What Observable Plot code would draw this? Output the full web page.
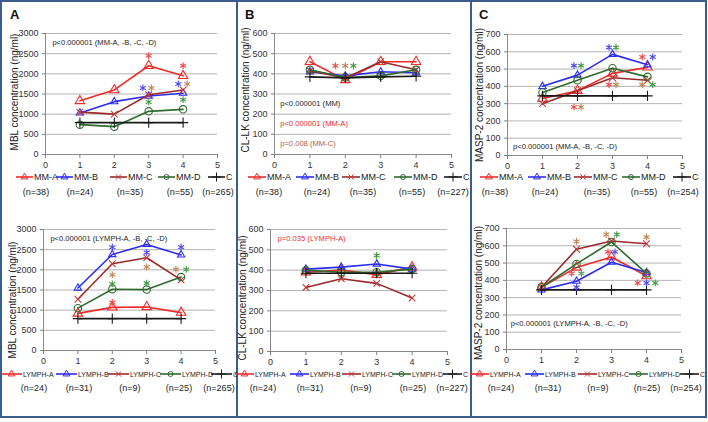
<!DOCTYPE html>
<html><head><meta charset="utf-8">
<script src="https://cdn.jsdelivr.net/npm/d3@7"></script>
<script src="https://cdn.jsdelivr.net/npm/@observablehq/plot@0.6"></script>
<style>
html,body{margin:0;padding:0;background:#fff;}
#fig{position:relative;width:708px;height:422px;overflow:hidden;font-family:"Liberation Sans",Arial,sans-serif;}
#fig > div{position:absolute;}
#overlay{position:absolute;left:0;top:0;pointer-events:none;}
</style></head><body><div id="fig"></div>
<script>
// ---------- data ----------
const xs = [1, 2, 3, 4];
const xTicks = [0, 1, 2, 3, 4, 5];
const mmNames = ["MM-A", "MM-B", "MM-C", "MM-D", "C"];
const lymphNames = ["LYMPH-A", "LYMPH-B", "LYMPH-C", "LYMPH-D", "C"];

// A: MBL
const mblMM_A = [1330, 1600, 2200, 1950];
const mblMM_B = [1030, 1310, 1450, 1520];
const mblMM_C = [1050, 1000, 1480, 1600];
const mblMM_D = [740, 690, 1070, 1120];
const mblCtrl = [790, 790, 790, 790];
const mblLY_A = [920, 1070, 1080, 940];
const mblLY_B = [1550, 2380, 2630, 2370];
const mblLY_C = [1270, 2150, 2300, 1750];
const mblLY_D = [1050, 1520, 1510, 1820];

// B: CL-LK
const clMM_A = [460, 370, 460, 460];
const clMM_B = [410, 390, 410, 405];
const clMM_C = [415, 380, 460, 420];
const clMM_D = [420, 382, 390, 420];
const clCtrlMM = [385, 380, 385, 388];
const clLY_A = [390, 400, 378, 415];
const clLY_B = [405, 415, 430, 405];
const clLY_C = [315, 358, 335, 263];
const clLY_D = [400, 390, 390, 405];
const clCtrlLY = [385, 385, 385, 385];

// C: MASP-2
const maspMM_A = [330, 375, 475, 510];
const maspMM_B = [400, 465, 585, 525];
const maspMM_C = [300, 375, 450, 435];
const maspMM_D = [365, 435, 505, 455];
const maspCtrl = [345, 345, 345, 345];
const maspLY_A = [360, 475, 535, 425];
const maspLY_B = [345, 395, 505, 445];
const maspLY_C = [360, 580, 628, 612];
const maspLY_D = [360, 495, 622, 440];

// significance asterisks: [x, y, group]
const starsMBL_MM = [[3,2450,0],[4,2200,0],[2.83,1650,1],[3.08,1650,2],[3,1300,3],[3.86,1750,1],[4.12,1750,2],[4,1360,3]];
const starsMBL_LY = [[2,2560,1],[2,1190,0],[2,1876,2],[2,1650,3],[3,2430,1],[3,2070,2],[3,1670,3],[4,2560,1],[3.85,2010,2],[4.15,2010,3]];
const starsCL_MM = [[1.72,440,0],[2,440,2],[2.23,440,3]];
const starsCL_LY = [[3,472,3]];
const starsMASP_MM = [[1.9,520,1],[2.1,520,3],[1.9,280,0],[2.1,280,2],[2.9,625,1],[3.1,625,3],[2.9,410,0],[3.1,410,2],[3.85,570,0],[4.15,570,1],[3.85,410,2],[4.15,410,3]];
const starsMASP_LY = [[2,625,2],[1.86,440,0],[2.14,440,3],[2,360,1],[2.85,665,2],[3.15,665,3],[2.9,565,0],[3.1,565,1],[4,650,2],[3.75,385,0],[4,385,1],[4.25,385,3]];

// annotations: [text, x, y, colourIndex]
const notesMBL_MM = [["p<0.000001 (MM-A, -B, -C, -D)", 0.2, 2780, 0]];
const notesMBL_LY = [["p<0.000001 (LYMPH-A, -B, -C, -D)", 0.2, 2780, 0]];
const notesCL_MM = [["p<0.000001 (MM)", 0.16, 255, 0], ["p<0.000001 (MM-A)", 0.16, 155, 1], ["p=0.008 (MM-C)", 0.16, 55, 2]];
const notesCL_LY = [["p=0.035 (LYMPH-A)", 0.2, 555, 1]];
const notesMASP_MM = [["p<0.000001 (MM-A, -B, -C, -D)", 0.16, 52, 0]];
const notesMASP_LY = [["p<0.000001 (LYMPH-A, -B, -C, -D)", 0.12, 150, 0]];

const nMBL_MM = ["(n=38)", "(n=24)", "(n=35)", "(n=55)", "(n=265)"];
const nMBL_LY = ["(n=24)", "(n=31)", "(n=9)", "(n=25)", "(n=265)"];
const nCL_MM = ["(n=38)", "(n=24)", "(n=35)", "(n=55)", "(n=227)"];
const nCL_LY = ["(n=24)", "(n=31)", "(n=9)", "(n=25)", "(n=227)"];
const nMASP_MM = ["(n=38)", "(n=24)", "(n=35)", "(n=55)", "(n=254)"];
const nMASP_LY = ["(n=24)", "(n=31)", "(n=9)", "(n=25)", "(n=254)"];

const yTicksMBL = [0, 500, 1000, 1500, 2000, 2500, 3000];
const yTicksCL = [0, 100, 200, 300, 400, 500, 600];
const yTicksMASP = [0, 100, 200, 300, 400, 500, 600, 700];

const yLabels = ["MBL concentration (ng/ml)", "CL-LK concentration (ng/ml)", "MASP-2 concentration (ng/ml)"];
const panelLetters = ["A", "B", "C"];

// ---------- styles ----------
const FONT = '"Liberation Sans", Arial, sans-serif';
const lineColors = ["#ee2b2b", "#2d2df0", "#9c2a2a", "#2f6a2f", "#1a1a1a"];
const markColors = ["#ee2b2b", "#2d2df0", "#c23a3a", "#2f6a2f", "#1a1a1a"];
const starColors = ["#ef4848", "#4848f0", "#c08352", "#3f9a3f"];
const noteColors = ["#1a1a1a", "#ee2b2b", "#b0603a"];
const symbols = ["triangle", "triangle", "times", "circle", "plus"];
const symR = [3.5, 2.7, 3.1, 3.7, 3.4];

// ---------- layout ----------
const panels = [
  {colL:0, colR:236, rowT:0, plotL:45, plotR:217, plotT:33, plotB:154, yMax:3000, yTicks:yTicksMBL,
   series:[mblMM_A,mblMM_B,mblMM_C,mblMM_D], ctrl:mblCtrl, stars:starsMBL_MM, notes:notesMBL_MM,
   names:mmNames, ns:nMBL_MM, lab:0, labX:14, labY:92, legY:177, nY:192, legX:[16,56,110,158,208], legLen:17, nX:[36,80,130,180,218], legFont:9},
  {colL:0, colR:236, rowT:200, plotL:43, plotR:215, plotT:229, plotB:350, yMax:3000, yTicks:yTicksMBL,
   series:[mblLY_A,mblLY_B,mblLY_C,mblLY_D], ctrl:mblCtrl, stars:starsMBL_LY, notes:notesMBL_LY,
   names:lymphNames, ns:nMBL_LY, lab:0, labX:12, labY:300, legY:374, nY:388, legX:[1,56,108,160,211], legLen:21, nX:[34,79,130,179,219], legFont:7},
  {colL:236, colR:470, rowT:0, plotL:274, plotR:451, plotT:33, plotB:154, yMax:600, yTicks:yTicksCL,
   series:[clMM_A,clMM_B,clMM_C,clMM_D], ctrl:clCtrlMM, stars:starsCL_MM, notes:notesCL_MM,
   names:mmNames, ns:nCL_MM, lab:1, labX:245, labY:90, legY:177, nY:192, legX:[248,296,342,394,444], legLen:18, nX:[269,317,363,412,453], legFont:9},
  {colL:236, colR:470, rowT:200, plotL:270, plotR:447, plotT:229, plotB:351, yMax:600, yTicks:yTicksCL,
   series:[clLY_A,clLY_B,clLY_C,clLY_D], ctrl:clCtrlLY, stars:starsCL_LY, notes:notesCL_LY,
   names:lymphNames, ns:nCL_LY, lab:1, labX:242, labY:298, legY:374, nY:388, legX:[235,290,342,392,443], legLen:19, nX:[263,310,361,413,452], legFont:7},
  {colL:470, colR:708, rowT:0, plotL:507, plotR:682, plotT:34, plotB:155, yMax:700, yTicks:yTicksMASP,
   series:[maspMM_A,maspMM_B,maspMM_C,maspMM_D], ctrl:maspCtrl, stars:starsMASP_MM, notes:notesMASP_MM,
   names:mmNames, ns:nMASP_MM, lab:2, labX:479, labY:95, legY:177, nY:192, legX:[480,528,574,622,673], legLen:18, nX:[495,545,597,644,683], legFont:9},
  {colL:470, colR:708, rowT:200, plotL:506, plotR:681, plotT:228, plotB:349, yMax:700, yTicks:yTicksMASP,
   series:[maspLY_A,maspLY_B,maspLY_C,maspLY_D], ctrl:maspCtrl, stars:starsMASP_LY, notes:notesMASP_LY,
   names:lymphNames, ns:nMASP_LY, lab:2, labX:478, labY:293, legY:374, nY:388, legX:[470,525,578,629,680], legLen:19, nX:[501,548,598,647,686], legFont:7}
];

const fig = document.getElementById("fig");

function buildPlot(p) {
  const all = [...p.series, p.ctrl];
  const rows = all.flatMap((vals, i) => vals.map((v, j) => ({x: xs[j], y: v, s: i})));
  const W = p.colR - p.colL;
  const H = p.plotB - p.rowT + 20;
  const marks = [
    Plot.gridY({ticks: p.yTicks, stroke: "#b4b4b4", strokeOpacity: 1, strokeWidth: 1}),
    Plot.axisY({ticks: p.yTicks, tickSize: 3, tickPadding: 4, tickFormat: d => String(d), label: null, stroke: "#7f7f7f", fill: "#333"}),
    Plot.axisX({ticks: xTicks, tickSize: 4, tickPadding: 3, tickFormat: d => String(d), label: null, stroke: "#7f7f7f", fill: "#333"}),
    Plot.ruleX([0], {stroke: "#8a8a8a"}),
    Plot.ruleY([0], {stroke: "#8a8a8a"})
  ];
  all.forEach((_, i) => {
    const d = rows.filter(r => r.s === i);
    marks.push(Plot.line(d, {x: "x", y: "y", stroke: lineColors[i], strokeWidth: 1.6}));
    marks.push(Plot.dot(d, {x: "x", y: "y", symbol: symbols[i], r: symR[i], stroke: markColors[i], fill: "none", strokeWidth: 1.1}));
  });
  starColors.forEach((c, i) => {
    const d = p.stars.filter(s => s[2] === i).map(s => ({x: s[0], y: s[1]}));
    if (d.length) marks.push(Plot.dot(d, {x: "x", y: "y", symbol: "asterisk", r: 3.2, stroke: c, strokeWidth: 1.1}));
  });
  p.notes.forEach(n => {
    marks.push(Plot.text([n], {x: d => d[1], y: d => d[2], text: d => d[0], fill: noteColors[n[3]], textAnchor: "start", fontSize: 7.6}));
  });
  const svg = Plot.plot({
    width: W, height: H,
    marginLeft: p.plotL - p.colL, marginRight: p.colR - p.plotR,
    marginTop: p.plotT - p.rowT, marginBottom: H - (p.plotB - p.rowT),
    x: {domain: [0, 5]}, y: {domain: [0, p.yMax]},
    style: {fontFamily: FONT, fontSize: "9px", background: "transparent", overflow: "visible", color: "#333"},
    marks
  });
  const div = document.createElement("div");
  div.style.left = p.colL + "px";
  div.style.top = p.rowT + "px";
  div.appendChild(svg);
  fig.appendChild(div);
}
panels.forEach(buildPlot);

// ---------- overlay: frame, letters, axis titles, legends ----------
const ov = d3.select(fig).append("svg").attr("id", "overlay").attr("width", 708).attr("height", 422)
  .style("font-family", FONT);
const frameColor = "#3a5d8c";
ov.append("rect").attr("x", 1).attr("y", 1).attr("width", 705).attr("height", 416)
  .attr("fill", "none").attr("stroke", frameColor).attr("stroke-width", 2);
[237, 471].forEach(x => ov.append("line").attr("x1", x).attr("x2", x).attr("y1", 1).attr("y2", 417)
  .attr("stroke", frameColor).attr("stroke-width", 2));
[[10, 19], [245, 19], [479, 19]].forEach(([x, y], i) => ov.append("text").attr("x", x).attr("y", y)
  .attr("font-size", 13).attr("font-weight", "bold").attr("fill", "#111").text(panelLetters[i]));

const d3Sym = {triangle: d3.symbolTriangle, times: d3.symbolTimes, circle: d3.symbolCircle, plus: d3.symbolPlus};
panels.forEach(p => {
  ov.append("text").attr("transform", `translate(${p.labX},${p.labY}) rotate(-90)`)
    .attr("text-anchor", "middle").attr("dominant-baseline", "central")
    .attr("font-size", 10).attr("fill", "#222").text(yLabels[p.lab]);
  p.names.forEach((name, i) => {
    const x0 = p.legX[i], x1 = x0 + p.legLen, y = p.legY;
    ov.append("line").attr("x1", x0).attr("x2", x1).attr("y1", y).attr("y2", y)
      .attr("stroke", lineColors[i]).attr("stroke-width", 1.6);
    const r = i === 4 ? 3 : 2.5;
    ov.append("path").attr("d", d3.symbol(d3Sym[symbols[i]], Math.PI * r * r)())
      .attr("transform", `translate(${(x0 + x1) / 2},${y})`)
      .attr("fill", "none").attr("stroke", markColors[i]).attr("stroke-width", 1);
    ov.append("text").attr("x", x1 + 1).attr("y", y).attr("dominant-baseline", "central")
      .attr("font-size", p.legFont).attr("fill", "#222").text(name);
    ov.append("text").attr("x", p.nX[i]).attr("y", p.nY).attr("text-anchor", "middle")
      .attr("dominant-baseline", "central").attr("font-size", 9).attr("fill", "#222").text(p.ns[i]);
  });
});
</script></body></html>
